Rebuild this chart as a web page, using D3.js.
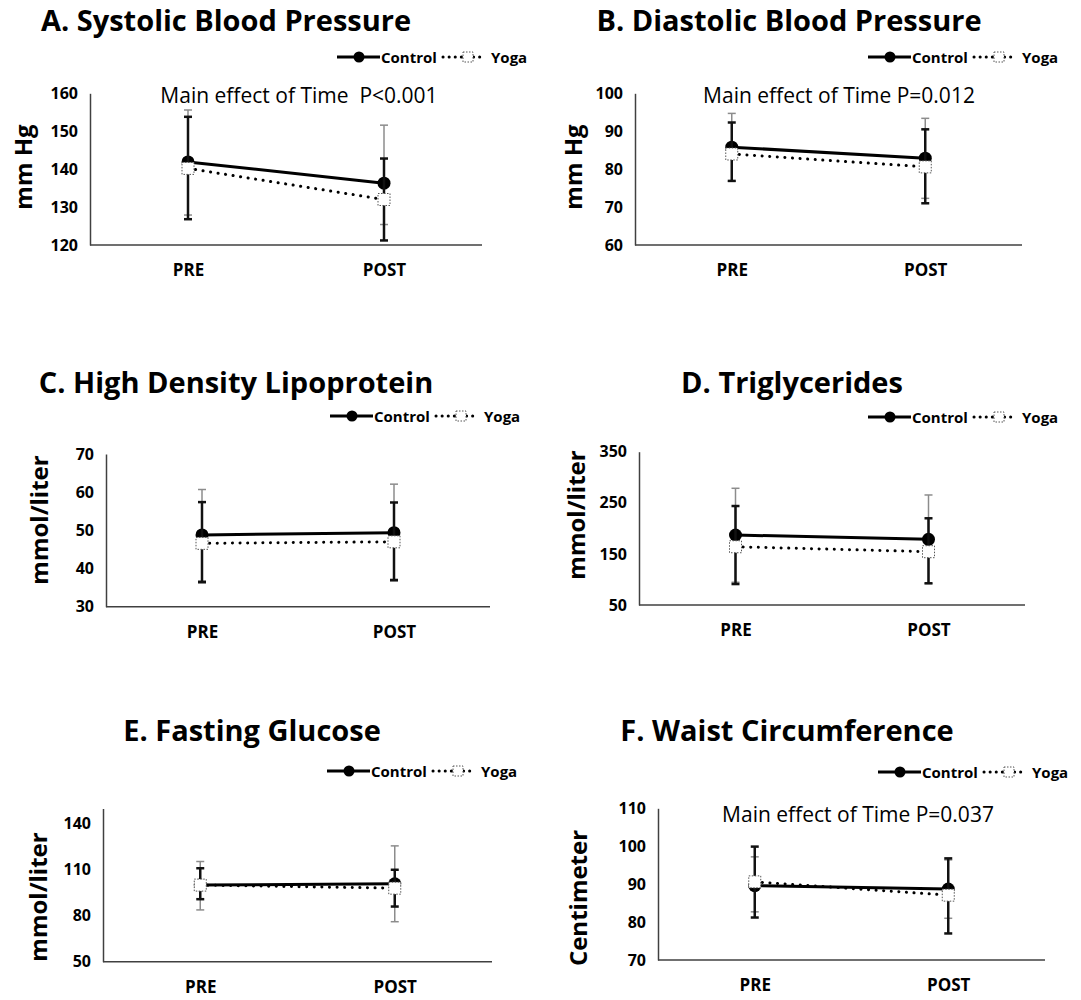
<!DOCTYPE html>
<html>
<head>
<meta charset="utf-8">
<script src="https://cdn.jsdelivr.net/npm/d3@7"></script>
<style>
  body { margin: 0; background: #fff; }
  svg { font-family: "Open Sans", sans-serif; }
</style>
</head>
<body>
<div id="chart"></div>
<script>
// values (mean and error bar ends, [PRE, POST])
var titles = ["A. Systolic Blood Pressure", "B. Diastolic Blood Pressure", "C. High Density Lipoprotein",
              "D. Triglycerides", "E. Fasting Glucose", "F. Waist Circumference"];
var yTitles = ["mm Hg", "mm Hg", "mmol/liter", "mmol/liter", "mmol/liter", "Centimeter"];
var yDomains = [[120, 160], [60, 100], [30, 70], [50, 350], [50, 150], [70, 110]];
var yTicks = [[120, 130, 140, 150, 160], [60, 70, 80, 90, 100], [30, 40, 50, 60, 70],
              [50, 150, 250, 350], [50, 80, 110, 140], [70, 80, 90, 100, 110]];
var notes = ["Main effect of Time  P<0.001", "Main effect of Time P=0.012", "", "", "", "Main effect of Time P=0.037"];
var times = ["PRE", "POST"];
var seriesNames = ["Control", "Yoga"];

var controlMean = [[141.9, 136.3], [85.8, 82.9], [48.8, 49.4], [187, 178.6], [100.1, 100.8], [89.6, 88.7]];
var yogaMean    = [[140.2, 132.0], [84.0, 80.6], [46.6, 47.0], [164, 154.3], [100, 98], [90.6, 87.1]];
var controlLow  = [[127.9, 125.4], [76.8, 72.3], [36.8, 36.7], [94.5, 92], [83.8, 76.1], [82.7, 81]];
var controlHigh = [[155.6, 151.6], [94.7, 93.4], [60.7, 62.1], [278.4, 265.3], [115.4, 125.6], [97.2, 96.4]];
var yogaLow     = [[126.8, 121.2], [76.9, 71.0], [36.4, 37.0], [91, 92.5], [90.8, 86], [81.2, 77]];
var yogaHigh    = [[153.8, 142.8], [92.3, 90.5], [57.4, 57.3], [243.7, 219.7], [111, 110], [99.9, 96.8]];

// where each panel sits on the page
var layout = [
  {x0: 90,  x1: 482,  top: 93.3,  bottom: 245,   titleX: 226, titleY: 19,  legX: 337, legY: 57,  ytX: 22,  ytY: 167, noteX: 299, noteY: 95},
  {x0: 635, x1: 1022, top: 93.3,  bottom: 245,   titleX: 789, titleY: 19,  legX: 868, legY: 57,  ytX: 572, ytY: 167, noteX: 839, noteY: 95},
  {x0: 106, x1: 490,  top: 454,   bottom: 606.7, titleX: 236, titleY: 381, legX: 330, legY: 416, ytX: 38,  ytY: 520},
  {x0: 639, x1: 1025, top: 451.7, bottom: 605,   titleX: 792, titleY: 381, legX: 868, legY: 417, ytX: 575, ytY: 515},
  {x0: 103, x1: 492,  top: 808.5, bottom: 961.7, titleX: 252, titleY: 729, legX: 327, legY: 771, ytX: 37,  ytY: 897},
  {x0: 658, x1: 1045, top: 808.3, bottom: 960,   titleX: 787, titleY: 729, legX: 878, legY: 772, ytX: 577, ytY: 898, noteX: 858, noteY: 814}
];

var svg = d3.select("#chart").append("svg")
    .attr("width", 1081)
    .attr("height", 1000);

layout.forEach(function(L, p) {
    var g = svg.append("g");

    var x = d3.scalePoint().domain(times).range([L.x0, L.x1]).padding(0.5);
    var y = d3.scaleLinear().domain(yDomains[p]).range([L.bottom, L.top]);

    // title
    g.append("text")
        .attr("x", L.titleX).attr("y", L.titleY)
        .attr("text-anchor", "middle").attr("dominant-baseline", "central")
        .style("font-size", "29px").style("font-weight", "bold")
        .text(titles[p]);

    // y axis
    var yAxis = d3.axisLeft(y).tickValues(yTicks[p]).tickSize(0).tickPadding(12);
    var ya = g.append("g").attr("transform", "translate(" + L.x0 + ",0)").call(yAxis);
    ya.select(".domain").attr("stroke", "#404040").attr("stroke-width", 1.5);
    ya.selectAll("text").style("font-size", "16px").style("font-weight", "bold")
        .style("font-family", "'Open Sans', sans-serif").attr("fill", "#000");

    // x axis
    var xAxis = d3.axisBottom(x).tickSize(0).tickPadding(19);
    var xa = g.append("g").attr("transform", "translate(0," + L.bottom + ")").call(xAxis);
    xa.select(".domain").attr("d", "M" + L.x0 + ",0H" + L.x1)
        .attr("stroke", "#404040").attr("stroke-width", 1.5);
    xa.selectAll("text").style("font-size", "17px").style("font-weight", "bold")
        .style("font-family", "'Open Sans', sans-serif").attr("fill", "#000");

    // y axis title
    g.append("text")
        .attr("transform", "translate(" + L.ytX + "," + L.ytY + ") rotate(-90)")
        .attr("text-anchor", "middle").attr("dominant-baseline", "central")
        .style("font-size", "24px").style("font-weight", "bold")
        .text(yTitles[p]);

    if (notes[p]) {
        g.append("text")
            .attr("x", L.noteX).attr("y", L.noteY)
            .attr("text-anchor", "middle").attr("dominant-baseline", "central")
            .style("font-size", "21px").style("white-space", "pre")
            .text(notes[p]);
    }

    var ctrl = times.map(function(t, i) {
        return {t: t, m: controlMean[p][i], lo: controlLow[p][i], hi: controlHigh[p][i]};
    });
    var yoga = times.map(function(t, i) {
        return {t: t, m: yogaMean[p][i], lo: yogaLow[p][i], hi: yogaHigh[p][i]};
    });

    function errorBars(data, color, width) {
        var eb = g.append("g").attr("stroke", color).attr("stroke-width", width);
        eb.selectAll("line.v").data(data).enter().append("line")
            .attr("x1", function(d) { return x(d.t); }).attr("x2", function(d) { return x(d.t); })
            .attr("y1", function(d) { return y(d.lo); }).attr("y2", function(d) { return y(d.hi); });
        eb.selectAll("line.lo").data(data).enter().append("line")
            .attr("x1", function(d) { return x(d.t) - 4; }).attr("x2", function(d) { return x(d.t) + 4; })
            .attr("y1", function(d) { return y(d.lo); }).attr("y2", function(d) { return y(d.lo); });
        eb.selectAll("line.hi").data(data).enter().append("line")
            .attr("x1", function(d) { return x(d.t) - 4; }).attr("x2", function(d) { return x(d.t) + 4; })
            .attr("y1", function(d) { return y(d.hi); }).attr("y2", function(d) { return y(d.hi); });
    }

    var line = d3.line().x(function(d) { return x(d.t); }).y(function(d) { return y(d.m); });

    // control series
    errorBars(ctrl, "#8c8c8c", 1.5);
    g.append("path").datum(ctrl).attr("d", line)
        .attr("fill", "none").attr("stroke", "#000").attr("stroke-width", 3);
    g.selectAll("circle.ctrl").data(ctrl).enter().append("circle")
        .attr("cx", function(d) { return x(d.t); }).attr("cy", function(d) { return y(d.m); })
        .attr("r", 6.5).attr("fill", "#000");

    // yoga series
    errorBars(yoga, "#111", 2.5);
    g.append("path").datum(yoga).attr("d", line)
        .attr("fill", "none").attr("stroke", "#000").attr("stroke-width", 3)
        .attr("stroke-linecap", "round").attr("stroke-dasharray", "0.1,7.5");
    g.selectAll("rect.yoga").data(yoga).enter().append("rect")
        .attr("x", function(d) { return x(d.t) - 6; }).attr("y", function(d) { return y(d.m) - 6; })
        .attr("width", 12).attr("height", 12)
        .attr("fill", "#fff").attr("stroke", "#555").attr("stroke-width", 1)
        .attr("stroke-dasharray", "1.5,1.5");

    // legend
    var lg = g.append("g").attr("transform", "translate(" + L.legX + "," + L.legY + ")");
    lg.append("line").attr("x1", 0).attr("x2", 43).attr("y1", 0).attr("y2", 0)
        .attr("stroke", "#000").attr("stroke-width", 3);
    lg.append("circle").attr("cx", 22).attr("cy", 0).attr("r", 5.5).attr("fill", "#000");
    lg.append("text").attr("x", 44).attr("y", 0).attr("dominant-baseline", "central")
        .style("font-size", "15px").style("font-weight", "bold").text(seriesNames[0]);
    lg.append("line").attr("x1", 106).attr("x2", 146).attr("y1", 0).attr("y2", 0)
        .attr("stroke", "#000").attr("stroke-width", 3)
        .attr("stroke-linecap", "round").attr("stroke-dasharray", "0.1,6");
    lg.append("rect").attr("x", 126).attr("y", -5).attr("width", 10).attr("height", 10)
        .attr("fill", "#fff").attr("stroke", "#555").attr("stroke-width", 1)
        .attr("stroke-dasharray", "1.5,1.5");
    lg.append("text").attr("x", 154).attr("y", 0).attr("dominant-baseline", "central")
        .style("font-size", "15px").style("font-weight", "bold").text(seriesNames[1]);
});
</script>
</body>
</html>
